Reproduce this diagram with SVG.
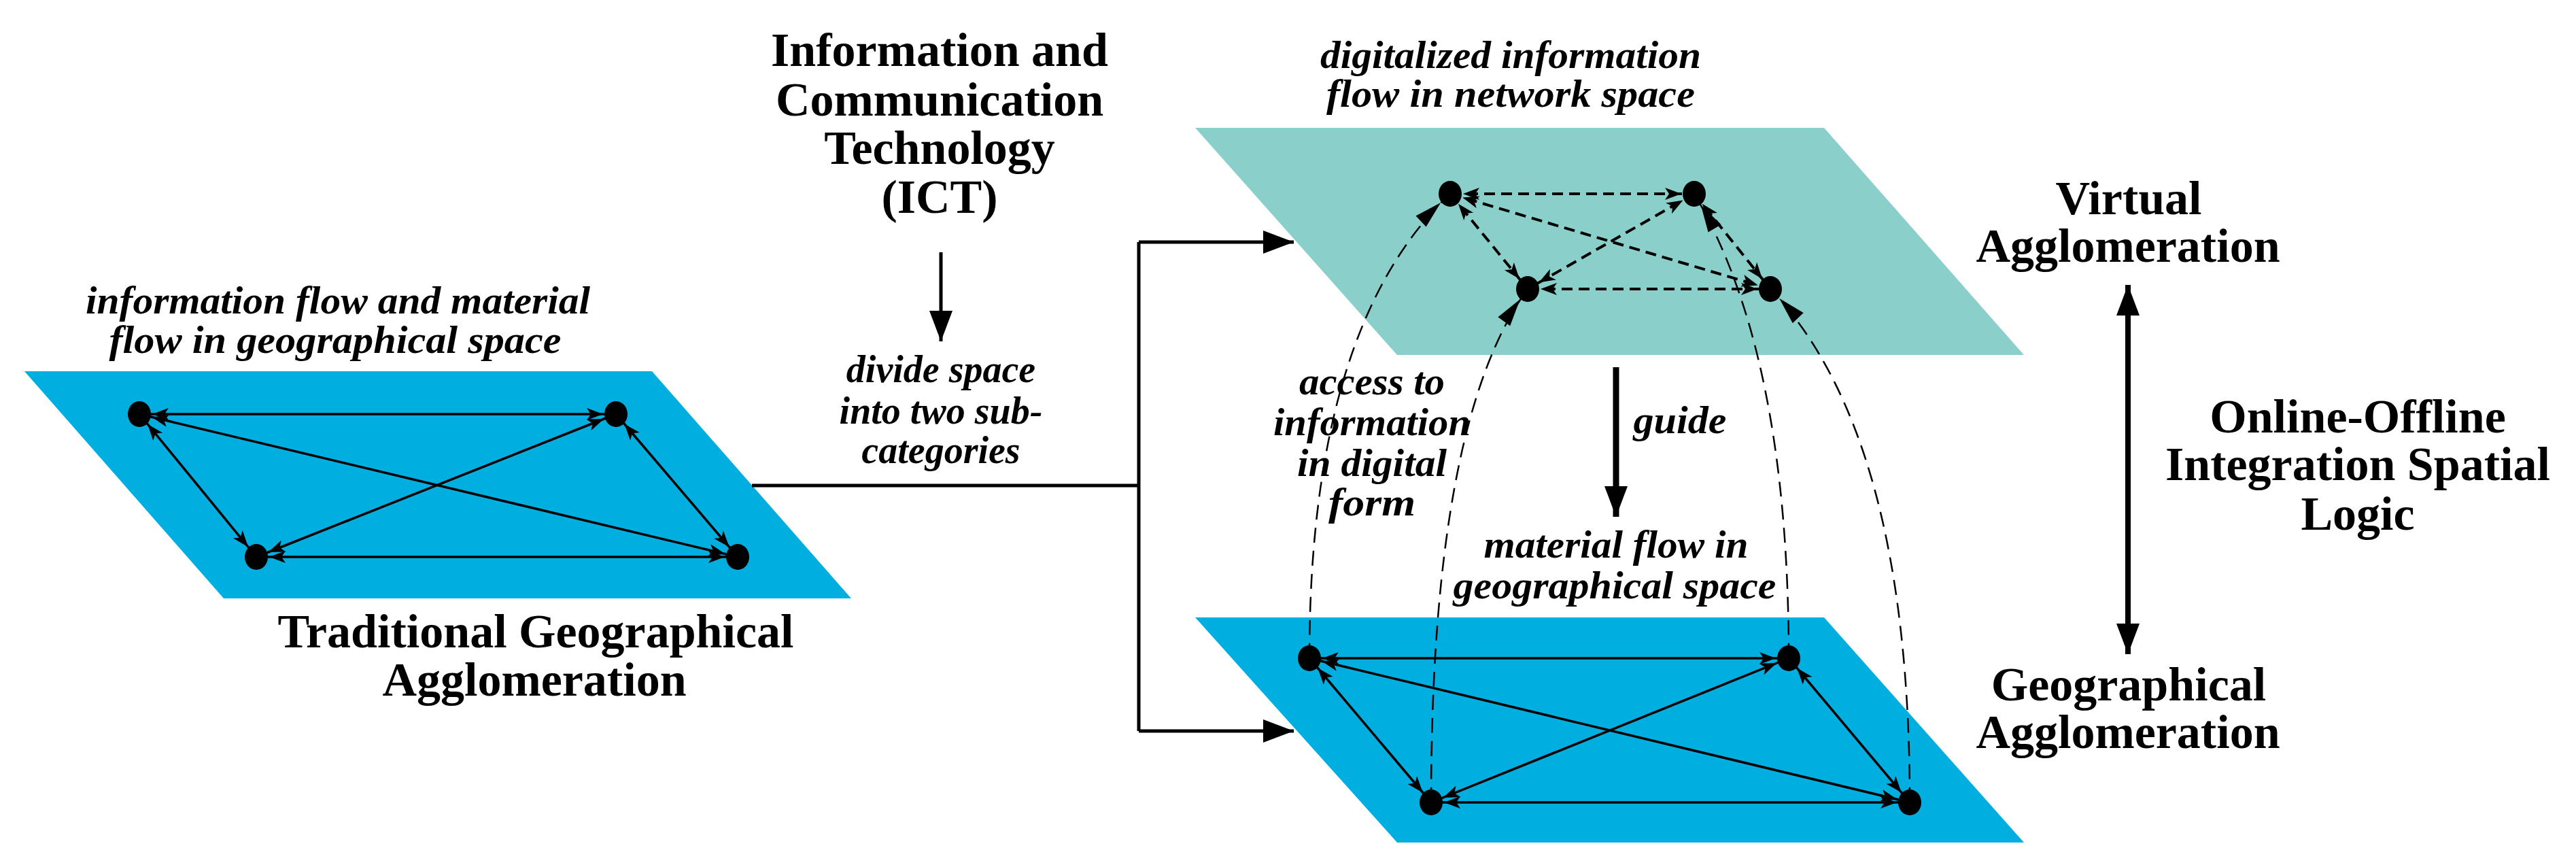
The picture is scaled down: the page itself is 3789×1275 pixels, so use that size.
<svg xmlns="http://www.w3.org/2000/svg" width="3789" height="1275" viewBox="0 0 3789 1275">
<style>
.bd{font-family:"Liberation Serif","Times New Roman",serif;font-weight:bold;font-size:70px;text-anchor:middle;fill:#000}
.it{font-family:"Liberation Serif","Times New Roman",serif;font-weight:bold;font-style:italic;font-size:56px;text-anchor:middle;fill:#000}
.tl{font-size:58px}
.node{fill:#000}
.e{stroke:#000;stroke-width:3.5;fill:none;marker-start:url(#ah);marker-end:url(#ah)}
.ed{stroke:#000;stroke-width:4;fill:none;stroke-dasharray:16 9;marker-start:url(#ah);marker-end:url(#ah)}
.cv{stroke:#000;stroke-width:2.5;fill:none;stroke-dasharray:22 12;marker-end:url(#ac)}
.ln{stroke:#000;stroke-width:5;fill:none}
</style>
<defs>
<marker id="ah" markerUnits="userSpaceOnUse" viewBox="-40 -12 60 24" markerWidth="60" markerHeight="24" refX="19" refY="0" orient="auto-start-reverse">
<path d="M-24,-9 L0,0 L-24,9 L-18,0 Z" fill="#000" stroke="none"/>
</marker>
<marker id="ac" markerUnits="userSpaceOnUse" viewBox="-60 -14 80 28" markerWidth="80" markerHeight="28" refX="19" refY="0" orient="auto">
<path d="M-40,-11 L0,0 L-40,11 Z" fill="#000" stroke="none"/>
</marker>
<marker id="ab" markerUnits="userSpaceOnUse" viewBox="-50 -20 60 40" markerWidth="60" markerHeight="40" refX="0" refY="0" orient="auto-start-reverse">
<path d="M-45,-17 L0,0 L-45,17 Z" fill="#000"/>
</marker>
</defs>

<g id="plane-traditional">
<polygon points="36,546 959,546 1252,880 329,880" fill="#00AEDF"/>
</g>
<g id="plane-virtual">
<polygon points="1758,188 2683,188 2977,522 2055,522" fill="#8ACFCA"/>
</g>
<g id="plane-geographical">
<polygon points="1758,908 2683,908 2977,1239 2055,1239" fill="#00AEDF"/>
</g>

<g id="connectors">
<line class="e" x1="205" y1="609" x2="906" y2="609"/>
<line class="e" x1="377" y1="819" x2="1085" y2="819"/>
<line class="e" x1="205" y1="609" x2="377" y2="819"/>
<line class="e" x1="906" y1="609" x2="1085" y2="819"/>
<line class="e" x1="205" y1="609" x2="1085" y2="819"/>
<line class="e" x1="906" y1="609" x2="377" y2="819"/>
<line class="ed" x1="2133" y1="285" x2="2492" y2="285"/>
<line class="ed" x1="2247" y1="425" x2="2604" y2="425"/>
<line class="ed" x1="2133" y1="285" x2="2247" y2="425"/>
<line class="ed" x1="2492" y1="285" x2="2604" y2="425"/>
<line class="ed" x1="2133" y1="285" x2="2604" y2="425"/>
<line class="ed" x1="2492" y1="285" x2="2247" y2="425"/>
<line class="e" x1="1926" y1="968" x2="2631" y2="968"/>
<line class="e" x1="2105" y1="1180" x2="2809" y2="1180"/>
<line class="e" x1="1926" y1="968" x2="2105" y2="1180"/>
<line class="e" x1="2631" y1="968" x2="2809" y2="1180"/>
<line class="e" x1="1926" y1="968" x2="2809" y2="1180"/>
<line class="e" x1="2631" y1="968" x2="2105" y2="1180"/>
<path class="cv" d="M1926,968 Q1926,480 2133,285"/>
<path class="cv" d="M2105,1180 Q2105,620 2247,425"/>
<path class="cv" d="M2631,968 Q2631,520 2492,285"/>
<path class="cv" d="M2809,1180 Q2809,640 2604,425"/>
<polyline class="ln" points="1106,714 1675,714"/>
<polyline class="ln" points="1675,356 1675,1075"/>
<line class="ln" x1="1675" y1="356" x2="1903" y2="356" marker-end="url(#ab)"/>
<line class="ln" x1="1675" y1="1075" x2="1903" y2="1075" marker-end="url(#ab)"/>
<line x1="1384" y1="371" x2="1384" y2="502" stroke="#000" stroke-width="5" marker-end="url(#ab)"/>
<line x1="2377" y1="540" x2="2377" y2="760" stroke="#000" stroke-width="9" marker-end="url(#ab)"/>
<line x1="3130" y1="419" x2="3130" y2="962" stroke="#000" stroke-width="8" marker-start="url(#ab)" marker-end="url(#ab)"/>
</g>

<g id="nodes-traditional">
<ellipse class="node" cx="205" cy="609" rx="17" ry="19"/><ellipse class="node" cx="906" cy="609" rx="17" ry="19"/>
<ellipse class="node" cx="377" cy="819" rx="17" ry="19"/><ellipse class="node" cx="1085" cy="819" rx="17" ry="19"/>
</g>
<g id="nodes-virtual">
<ellipse class="node" cx="2133" cy="285" rx="17" ry="19"/><ellipse class="node" cx="2492" cy="285" rx="17" ry="19"/>
<ellipse class="node" cx="2247" cy="425" rx="17" ry="19"/><ellipse class="node" cx="2604" cy="425" rx="17" ry="19"/>
</g>
<g id="nodes-geographical">
<ellipse class="node" cx="1926" cy="968" rx="17" ry="19"/><ellipse class="node" cx="2631" cy="968" rx="17" ry="19"/>
<ellipse class="node" cx="2105" cy="1180" rx="17" ry="19"/><ellipse class="node" cx="2809" cy="1180" rx="17" ry="19"/>
</g>

<g id="labels">
<text class="it tl" x="497" y="461" textLength="742" lengthAdjust="spacingAndGlyphs">information flow and material</text>
<text class="it tl" x="493" y="519" textLength="665" lengthAdjust="spacingAndGlyphs">flow in geographical space</text>
<text class="bd" x="788" y="952">Traditional Geographical</text>
<text class="bd" x="786" y="1023">Agglomeration</text>

<text class="bd" x="1382" y="97">Information and</text>
<text class="bd" x="1382" y="170">Communication</text>
<text class="bd" x="1382" y="241">Technology</text>
<text class="bd" x="1382" y="313">(ICT)</text>
<text class="it" x="1384" y="562">divide space</text>
<text class="it" x="1384" y="623">into two sub-</text>
<text class="it" x="1384" y="681">categories</text>

<text class="it tl" x="2222" y="100" textLength="560" lengthAdjust="spacingAndGlyphs">digitalized information</text>
<text class="it tl" x="2222" y="157" textLength="542" lengthAdjust="spacingAndGlyphs">flow in network space</text>

<text class="it tl" x="2018" y="580" textLength="214" lengthAdjust="spacingAndGlyphs">access to</text>
<text class="it tl" x="2018" y="640" textLength="290" lengthAdjust="spacingAndGlyphs">information</text>
<text class="it tl" x="2018" y="700" textLength="220" lengthAdjust="spacingAndGlyphs">in digital</text>
<text class="it tl" x="2018" y="758" textLength="128" lengthAdjust="spacingAndGlyphs">form</text>
<text class="it tl" x="2471" y="637" textLength="137" lengthAdjust="spacingAndGlyphs">guide</text>
<text class="it tl" x="2377" y="820" textLength="389" lengthAdjust="spacingAndGlyphs">material flow in</text>
<text class="it tl" x="2375" y="880" textLength="475" lengthAdjust="spacingAndGlyphs">geographical space</text>

<text class="bd" x="3131" y="315">Virtual</text>
<text class="bd" x="3130" y="385">Agglomeration</text>
<text class="bd" x="3468" y="636">Online-Offline</text>
<text class="bd" x="3468" y="706">Integration Spatial</text>
<text class="bd" x="3468" y="779">Logic</text>
<text class="bd" x="3131" y="1030">Geographical</text>
<text class="bd" x="3130" y="1100">Agglomeration</text>
</g>
</svg>
